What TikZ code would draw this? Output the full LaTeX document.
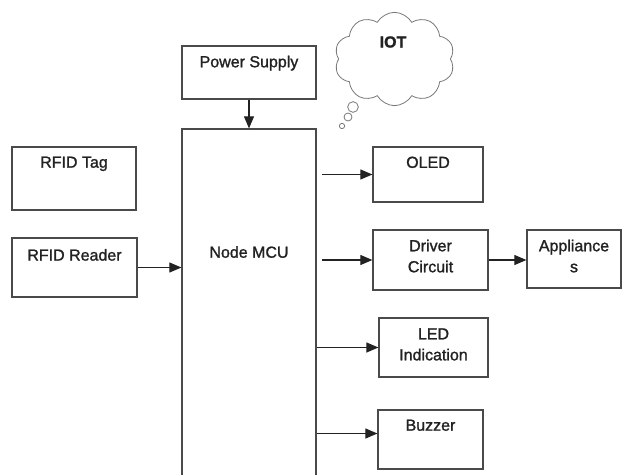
\documentclass[tikz,border=0pt]{standalone}
\usepackage{fontspec}
\setmainfont{Liberation Sans}[FakeBold=1.3]
\usetikzlibrary{arrows.meta,positioning,shapes.symbols}
\definecolor{Edge}{HTML}{4A4A4A}
\definecolor{Ink}{HTML}{222222}

\begin{document}
\begin{tikzpicture}[
  x=0.75pt,y=-0.75pt,
  box/.style={draw=Edge,line width=0.9pt,fill=white,inner sep=0pt},
  lbl/.style={inner sep=0pt,align=center,text=Ink,font=\fontsize{12}{15.75}\selectfont},
  bubble/.style={draw=Edge!75,line width=0.6pt,circle,inner sep=0pt},
  arrow/.style={-{Triangle[length=9pt,width=7.5pt]},line width=0.8pt,color=Ink}
]
  \useasboundingbox (0,0) rectangle (623,474);

  % main controller and its inputs
  \node[box,minimum width=100.5pt,minimum height=263.25pt] (mcu) at (249,304.5) {};
  \node[lbl] (mcutext) at (249,252) {Node MCU};
  \node[box,minimum width=100.5pt,minimum height=39.75pt] (power) at (249,72.5) {};
  \node[box,minimum width=93pt,minimum height=47.25pt] (tag) at (74,178.5) {};
  \node[box,minimum width=93.75pt,minimum height=44.25pt] (reader) at (74.5,267.5) {};

  % outputs
  \node[box,minimum width=82.5pt,minimum height=41.25pt] (oled) at (428,174.5) {};
  \node[box,minimum width=86.25pt,minimum height=45pt] (driver) at (430.5,260) {};
  \node[box,minimum width=70.5pt,minimum height=43.5pt] (appl) at (574,259) {};
  \node[box,minimum width=81.75pt,minimum height=44.25pt] (led) at (433.5,347.5) {};
  \node[box,minimum width=78.75pt,minimum height=44.25pt] (buzzer) at (430.5,439.5) {};

  % box titles sit near the top edge
  \node[lbl,below=7.5pt of power.north] (powertext) {Power Supply};
  \node[lbl,below=7.5pt of tag.north] (tagtext) {RFID Tag};
  \node[lbl,below=8.5pt of reader.north] (readertext) {RFID Reader};
  \node[lbl,below=7.5pt of oled.north] (oledtext) {OLED};
  \node[lbl,below=7.5pt of driver.north] (drivertext) {Driver\\Circuit};
  \node[lbl,below=7.5pt of appl.north] (appltext) {Appliance\\s};
  \node[lbl,below=8pt of led.north] (ledtext) {LED\\Indication};
  \node[lbl,below=7.5pt of buzzer.north] (buzzertext) {Buzzer};

  % cloud with its thought bubbles
  \node[cloud,cloud puffs=10,cloud puff arc=120,aspect=1.3,draw=Edge!75,line width=0.6pt,
        minimum width=90pt,minimum height=70pt,inner sep=0pt] (iot) at (394.5,59) {};
  \node[lbl,font=\fontsize{12}{14}\selectfont\bfseries] (iottext) at (393,42) {IOT};
  \node[bubble,minimum size=8pt] (b1) at (353,107) {};
  \node[bubble,minimum size=6pt] (b2) at (348,117) {};
  \node[bubble,minimum size=4pt] (b3) at (342,126) {};

  \draw[arrow] (power.south) -- (mcu.north);
  \draw[arrow] (reader.east) -- (mcu.west |- reader.east);
  \draw[arrow,shorten <=4pt] (mcu.east |- oled.west) -- (oled.west);
  \draw[arrow,shorten <=4pt] (mcu.east |- driver.west) -- (driver.west);
  \draw[arrow] (driver.east) -- (appl.west |- driver.east);
  \draw[arrow] (mcu.east |- led.west) -- (led.west);
  \draw[arrow] ([yshift=4.5pt]mcu.east |- buzzer.west) -- ([yshift=4.5pt]buzzer.west);
\end{tikzpicture}
\end{document}
